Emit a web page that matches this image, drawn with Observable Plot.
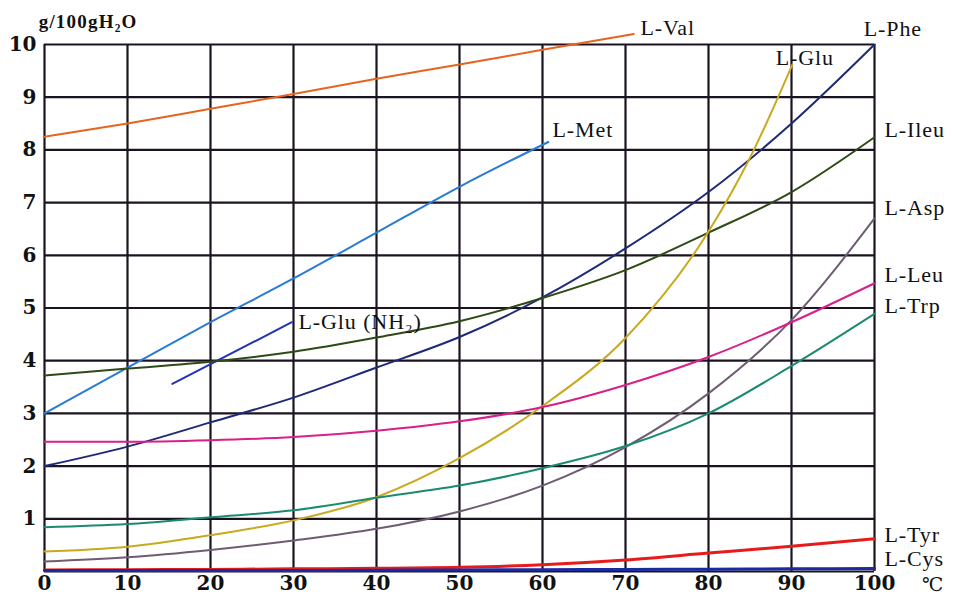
<!DOCTYPE html>
<html><head><meta charset="utf-8">
<script src="https://cdn.jsdelivr.net/npm/d3@7"></script>
<script src="https://cdn.jsdelivr.net/npm/@observablehq/plot@0.6"></script>
<style>body{margin:0;background:#fff}</style>
</head><body><div id="chart"></div>
<script>
// Solubility of amino acids (g/100gH2O) vs temperature (°C)
const temperature = [0,10,20,30,40,50,60,70,80,90,100];
const xTicks = [0,10,20,30,40,50,60,70,80,90,100];
const yTicks = [1,2,3,4,5,6,7,8,9,10];
const gridYTicks = [0,1,2,3,4,5,6,7,8,9,10];

const valTemp = [0,10,20,30,40,50,60,71];
const valValues = [8.25,8.5,8.78,9.06,9.35,9.62,9.9,10.2];
const pheValues = [2.0,2.37,2.83,3.3,3.87,4.45,5.2,6.13,7.2,8.5,10.0];
const metTemp = [0,10,20,30,40,50,60.7];
const metValues = [3.0,3.87,4.73,5.56,6.43,7.3,8.15];
const gluNH2Temp = [15.4,29.8];
const gluNH2Values = [3.56,4.73];
const ileuValues = [3.72,3.85,3.98,4.17,4.44,4.75,5.19,5.72,6.43,7.2,8.24];
const gluTemp = [0,10,20,30,40,50,60,70,80,85,90.1];
const gluValues = [0.38,0.47,0.69,0.97,1.41,2.15,3.14,4.43,6.45,7.85,9.62];
const aspValues = [0.19,0.27,0.41,0.59,0.81,1.14,1.63,2.36,3.38,4.77,6.7];
const leuValues = [2.46,2.46,2.49,2.55,2.67,2.85,3.12,3.54,4.07,4.73,5.47];
const trpValues = [0.84,0.9,1.03,1.16,1.4,1.63,1.96,2.38,3.0,3.9,4.89];
const tyrValues = [0.03,0.035,0.04,0.05,0.06,0.08,0.13,0.22,0.35,0.48,0.62];
const cysValues = [0.02,0.02,0.02,0.02,0.025,0.03,0.035,0.04,0.045,0.05,0.055];

const seriesNames = ["L-Val","L-Phe","L-Met","L-Glu (NH₂)","L-Ileu","L-Glu","L-Asp","L-Leu","L-Trp","L-Tyr","L-Cys"];
const seriesColors = ["#e8641e","#1e2a78","#2a7ad8","#2233b4","#2e4a16","#c9a91e","#6f5c72","#d81f8a","#1a8a70","#e61c1c","#1a2aa0"];
const seriesTemps = [valTemp,temperature,metTemp,gluNH2Temp,temperature,gluTemp,temperature,temperature,temperature,temperature,temperature];
const seriesValues = [valValues,pheValues,metValues,gluNH2Values,ileuValues,gluValues,aspValues,leuValues,trpValues,tyrValues,cysValues];

const labelTexts = ["L-Val","L-Phe","L-Glu","L-Met","L-Ileu","L-Asp","L-Leu","L-Trp","L-Tyr","L-Cys","L-Glu (NH₂)"];
const labelX = [71.8,98.7,88.1,61.2,101.2,101.2,101.2,101.2,101.2,101.2,30.6];
const labelY = [10.32,10.3,9.75,8.37,8.37,6.9,5.62,5.03,0.7,0.23,4.74];

const rows = seriesNames.flatMap((name, i) =>
  seriesTemps[i].map((t, j) => ({name, t, v: seriesValues[i][j]})));
const thinRows = rows.filter(d => d.name !== "L-Tyr" && d.name !== "L-Cys");
const thickRows = rows.filter(d => d.name === "L-Tyr" || d.name === "L-Cys");
const labels = labelTexts.map((text, i) => ({text, x: labelX[i], y: labelY[i]}));

const gridColor = "#1b1420";

const chart = Plot.plot({
  width: 953,
  height: 596,
  marginLeft: 44,
  marginRight: 79,
  marginTop: 44,
  marginBottom: 25,
  style: {fontFamily: "'Liberation Serif', 'DejaVu Serif', serif", background: "#fff", color: "#111", overflow: "visible"},
  x: {domain: [0, 100]},
  y: {domain: [0, 10]},
  color: {domain: seriesNames, range: seriesColors},
  marks: [
    Plot.gridX({ticks: xTicks, stroke: gridColor, strokeOpacity: 1, strokeWidth: 2.2}),
    Plot.gridY({ticks: gridYTicks, stroke: gridColor, strokeOpacity: 1, strokeWidth: 2.2}),
    Plot.line(thickRows, {x: "t", y: "v", z: "name", stroke: "name", strokeWidth: 3, curve: "monotone-x"}),
    Plot.line(thinRows, {x: "t", y: "v", z: "name", stroke: "name", strokeWidth: 2, curve: "monotone-x"}),
    Plot.axisX({ticks: xTicks, tickSize: 0, tickPadding: 4, fontSize: 20, fontWeight: "bold", fontFamily: "'DejaVu Serif', serif", label: null, fill: "#111"}),
    Plot.axisY({ticks: yTicks, tickSize: 0, tickPadding: 8, fontSize: 20, fontWeight: "bold", fontFamily: "'DejaVu Serif', serif", label: null, fill: "#111"}),
    Plot.text(labels, {x: "x", y: "y", text: "text", textAnchor: "start", fontSize: 22, fill: "#111", className: "curve-label"}),
    Plot.text(["g/100gH₂O"], {x: -0.7, y: 10.42, text: d => d, textAnchor: "start", fontSize: 19, fontWeight: "bold", fill: "#111", className: "unit-label"}),
    Plot.text(["℃"], {x: 107.0, y: -0.25, text: d => d, textAnchor: "middle", fontSize: 19, fill: "#111"})
  ]
});
d3.select(chart).selectAll(".curve-label text").attr("letter-spacing", "0.9px");
d3.select(chart).selectAll(".unit-label text").attr("letter-spacing", "1.2px");
document.getElementById("chart").appendChild(chart);
</script>
</body></html>
